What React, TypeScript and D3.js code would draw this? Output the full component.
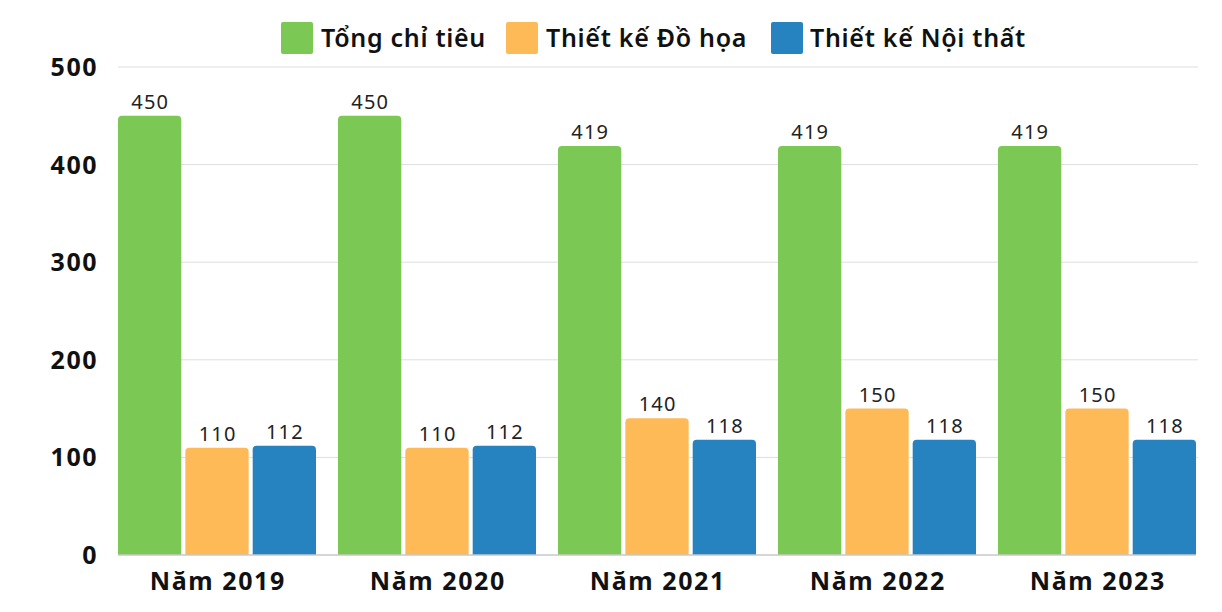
import React from "react";
import * as d3 from "d3";

const categories = ["Năm 2019", "Năm 2020", "Năm 2021", "Năm 2022", "Năm 2023"];
const seriesNames = ["Tổng chỉ tiêu", "Thiết kế Đồ họa", "Thiết kế Nội thất"];
const tongChiTieu = [450, 450, 419, 419, 419];
const doHoa = [110, 110, 140, 150, 150];
const noiThat = [112, 112, 118, 118, 118];
const colors = ["#7bc854", "#ffba58", "#2783c0"];
const yTicks = [0, 100, 200, 300, 400, 500];

const W = 1222;
const H = 612;
const FONT = "'Noto Sans', Lato, sans-serif";

function topRoundedRect(x: number, y: number, w: number, h: number, r: number) {
  const rr = Math.min(r, h, w / 2);
  return `M${x},${y + h}V${y + rr}Q${x},${y} ${x + rr},${y}H${x + w - rr}Q${x + w},${y} ${x + w},${y + rr}V${y + h}Z`;
}

export default function App() {
  const series = [tongChiTieu, doHoa, noiThat];
  const x = d3.scaleBand<string>().domain(categories).range([118, 1196]).paddingInner(0.1).paddingOuter(0);
  const xs = d3.scaleBand<number>().domain([0, 1, 2]).range([0, x.bandwidth()]).paddingInner(0.06);
  const y = d3.scaleLinear().domain([0, 500]).range([555, 67]);

  const legendItems = [
    { name: seriesNames[0], sx: 281, tx: 321 },
    { name: seriesNames[1], sx: 506, tx: 546 },
    { name: seriesNames[2], sx: 771, tx: 810 },
  ];

  return (
    <svg width={W} height={H} style={{ position: "absolute", left: 0, top: 0, background: "#fff" }}>
      {yTicks.filter((t) => t > 0).map((t) => (
        <line key={t} x1={118} x2={1198} y1={y(t)} y2={y(t)} stroke="#dedede" strokeWidth={1} />
      ))}
      {yTicks.map((t) => (
        <text key={t} x={98} y={y(t)} dy="0.36em" textAnchor="end" fontFamily={FONT} fontWeight={700} fontSize={25} letterSpacing={1.5} fill="#111">
          {t}
        </text>
      ))}
      {categories.map((c, i) => (
        <g key={c} transform={`translate(${x(c)},0)`}>
          {series.map((s, k) => {
            const bx = xs(k)!;
            const bw = xs.bandwidth();
            const by = y(s[i]);
            const bh = y(0) - by;
            return (
              <g key={k}>
                <path d={topRoundedRect(bx, by, bw, bh, 4)} fill={colors[k]} />
                <text x={bx + bw / 2 + 0.6} y={by - 7} textAnchor="middle" fontFamily={FONT} fontSize={20} letterSpacing={1.2} fill="#222">
                  {s[i]}
                </text>
              </g>
            );
          })}
        </g>
      ))}
      <line x1={118} x2={1196} y1={y(0)} y2={y(0)} stroke="#c8c8c8" strokeWidth={1.5} />
      {categories.map((c) => (
        <text key={c} x={x(c)! + x.bandwidth() / 2 + 0.8} y={590} textAnchor="middle" fontFamily={FONT} fontWeight={700} fontSize={25} letterSpacing={1.6} fill="#111">
          {c}
        </text>
      ))}
      {legendItems.map((it, k) => (
        <g key={it.name}>
          <rect x={it.sx} y={22} width={32} height={32} rx={2} fill={colors[k]} />
          <text x={it.tx} y={38} dy="0.36em" fontFamily={FONT} fontWeight={600} fontSize={25} letterSpacing={0.7} fill="#111">
            {it.name}
          </text>
        </g>
      ))}
    </svg>
  );
}
